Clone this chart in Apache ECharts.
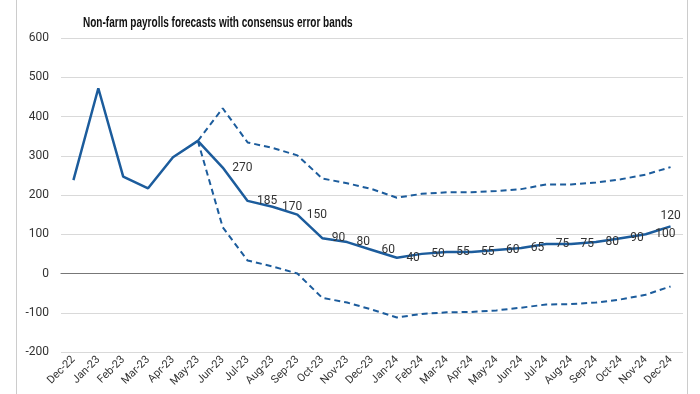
<!DOCTYPE html>
<html><head><meta charset="utf-8">
<script src="https://cdn.jsdelivr.net/npm/echarts@6/dist/echarts.min.js"></script>
<style>html,body{margin:0;padding:0;background:#fff}#c{width:700px;height:394px}</style>
</head><body><div id="c"></div>
<script>
var categories = ['Dec-22','Jan-23','Feb-23','Mar-23','Apr-23','May-23','Jun-23','Jul-23','Aug-23','Sep-23','Oct-23','Nov-23','Dec-23','Jan-24','Feb-24','Mar-24','Apr-24','May-24','Jun-24','Jul-24','Aug-24','Sep-24','Oct-24','Nov-24','Dec-24'];
var payrolls = [238, 472, 247, 217, 296, 338, 270, 185, 170, 150, 90, 80, 60, 40, 50, 55, 55, 60, 65, 75, 75, 80, 90, 100, 120];
var labelled = [false,false,false,false,false,false,true,true,true,true,true,true,true,true,true,true,true,true,true,true,true,true,true,true,true];
var upperBand = [null,null,null,null,null,338,421,334,320,301,242,230,215,193,203,207,207,210,215,227,227,232,240,252,271];
var lowerBand = [null,null,null,null,null,338,118,33,18,0,-62,-74,-92,-112,-103,-99,-98,-94,-87,-79,-78,-74,-66,-54,-33];
var yTicks = {min:-200, max:600, interval:100};
var titleText = 'Non-farm payrolls forecasts with consensus error bands';

var FONT = "Roboto,'Liberation Sans',sans-serif";
var BLUE = '#1c5c9c';
var mainData = payrolls.map(function(v,i){
  var last = i===payrolls.length-1;
  return {value:v, label:{show:labelled[i], position: last ? 'top' : 'right', distance: last ? 4 : 9}};
});
var chart = echarts.init(document.getElementById('c'));
chart.setOption({
  animation:false,
  graphic:[
    {type:'line', shape:{x1:16.5,y1:0,x2:16.5,y2:394}, style:{stroke:'#cccccc', lineWidth:1}},
    {type:'line', shape:{x1:687.5,y1:0,x2:687.5,y2:394}, style:{stroke:'#cccccc', lineWidth:1}},
    {type:'text', x:83, y:23, scaleX:0.716, style:{text:titleText, font:"bold 14px 'Liberation Sans'", fill:'#111', textVerticalAlign:'middle'}}
  ],
  grid:{left:61, right:17, top:38, bottom:42},
  xAxis:{type:'category', data:categories, boundaryGap:true,
    axisLine:{show:true, lineStyle:{color:'#777', width:1.2}},
    axisTick:{show:false},
    axisLabel:{rotate:45, interval:0, fontFamily:FONT, fontSize:11, color:'#333', margin:6}},
  yAxis:{type:'value', min:yTicks.min, max:yTicks.max, interval:yTicks.interval,
    axisLine:{show:false}, axisTick:{show:false},
    axisLabel:{fontFamily:FONT, fontSize:12, color:'#333', margin:12},
    splitLine:{lineStyle:{color:'#d9d9d9', width:1.2}}},
  series:[
    {type:'line', name:'Upper', data:upperBand, symbol:'none',
      lineStyle:{color:BLUE, width:2, type:[6,4]}},
    {type:'line', name:'Lower', data:lowerBand, symbol:'none',
      lineStyle:{color:BLUE, width:2, type:[6,4]}},
    {type:'line', name:'Payrolls', data:mainData, symbol:'circle', symbolSize:1, showAllSymbol:true,
      itemStyle:{color:BLUE, opacity:0},
      lineStyle:{color:BLUE, width:2.5},
      label:{fontFamily:FONT, fontSize:12, color:'#333', opacity:1}}
  ]
});
</script></body></html>
